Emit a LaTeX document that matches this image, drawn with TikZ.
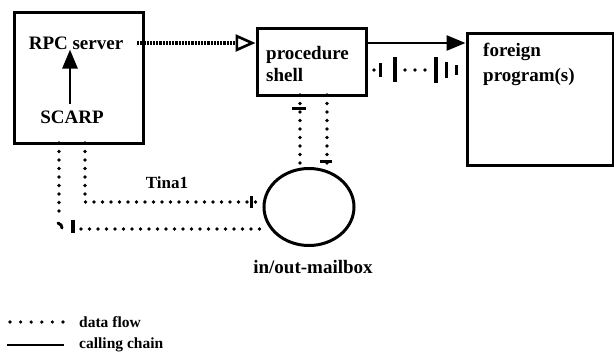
\documentclass[tikz,border=0pt]{standalone}
\usepackage{fontspec}
\setmainfont{Liberation Serif}
\usetikzlibrary{arrows.meta,shapes.geometric}
\begin{document}
\begin{tikzpicture}[x=1pt,y=-1pt,
  lbl/.style={font=\fontsize{19}{22}\selectfont\bfseries, inner sep=0pt},
  smalllbl/.style={font=\fontsize{15.5}{18}\selectfont\bfseries, inner sep=0pt},
  boxstyle/.style={draw, line width=3pt, rectangle, inner sep=0pt},
  dataflow/.style={line width=3.6pt, dash pattern=on 0pt off 8.5pt, line cap=round},
  callchain/.style={line width=2.8pt},
  tick/.style={line width=3pt},
  tip/.style={-{Triangle[length=19pt,width=15pt]}}
]
\useasboundingbox (0,0) rectangle (614,357);
% boxes
\node[boxstyle, minimum width=129pt, minimum height=131pt] (rpc) at (78.5,77.5) {};
\node[boxstyle, minimum width=109pt, minimum height=67pt] (proc) at (311.5,61.5) {};
\node[boxstyle, minimum width=146pt, minimum height=132pt] (foreign) at (540,99) {};
\node[draw, line width=3pt, ellipse, minimum width=90pt, minimum height=77pt, inner sep=0pt] (mail) at (309,207) {};
% labels
\node[lbl] (rpcl) at (76,43) {RPC server};
\node[lbl] (scarp) at (72,117) {SCARP};
\node[lbl, anchor=west, align=left, font=\fontsize{19}{22}\selectfont\bfseries] (procl) at (266,63.5) {procedure\\shell};
\node[lbl, anchor=north west, align=left, font=\fontsize{19}{25}\selectfont\bfseries] (forl) at (483,43) {foreign\\program(s)};
\node[lbl] (mboxl) at (313,267) {in/out-mailbox};
\node[smalllbl, font=\fontsize{17}{20}\selectfont\bfseries] (tina) at (167,183) {Tina1};
% calling chain arrows
\coordinate (s1) at (70,104);
\draw[callchain, tip] (s1) -- (s1 |- rpcl.south);
\coordinate (rs) at (137,43);
\draw[line width=3.6pt, dash pattern=on 2.2pt off 1pt, -{Triangle[open,length=20pt,width=17pt,line width=2.6pt]}] (rs) -- (proc.west |- rs);
\coordinate (pa) at (proc.east |- 0,43);
\draw[callchain, tip] (pa) -- (foreign.west |- pa);
% data flow proc -> foreign (ticks)
\coordinate (d0) at (374,70);
\fill (d0) circle (1.9pt);
\draw[tick] (380,63) -- (380,77);
\draw[line width=3.4pt] (395,57) -- (395,82);
\fill (405,70) circle (1.9pt) (415,70) circle (1.9pt) (425,70) circle (1.9pt);
\draw[line width=3.4pt] (436,57) -- (436,83);
\draw[tick] (446,62) -- (446,78);
\draw[tick] (456,65) -- (456,75);
% data flow proc -> mailbox
\coordinate (p1) at (300,95);
\coordinate (p2) at (327,95);
\draw[dataflow] (p1) -- (300,170);
\draw[dataflow] (p2) -- (327,170);
\draw[line width=3pt] (292,108) -- (306,108);
\draw[line width=3pt] (320,161) -- (332,161);
% data flow RPC -> mailbox
\coordinate (r1) at (59,143);
\coordinate (r2) at (85,143);
\coordinate (u1) at (85,202);
\coordinate (u2) at (263,202);
\draw[dataflow] (r2) -- (u1) -- (u2);
\draw[tick] (251,196) -- (251,208);
\coordinate (l1) at (59,218);
\coordinate (l2) at (264,229);
\draw[dataflow] (r1) -- (l1);
\draw[line width=3pt, line cap=round] (58,223) -- (61,225) -- (62,228);
\draw[dataflow] (81,229) -- (l2);
\draw[line width=3.2pt] (73,220) -- (73,233);
% legend
\coordinate (a1) at (10,322);
\coordinate (a2) at (63,322);
\draw[dataflow, dash pattern=on 0pt off 10.6pt] (a1) -- (a2);
\node[smalllbl, anchor=west] (df) at (79,322) {data flow};
\coordinate (b1) at (7,345);
\coordinate (b2) at (64,345);
\draw[callchain] (b1) -- (b2);
\node[smalllbl, anchor=west] (cc) at (79,345) {calling chain};
\end{tikzpicture}
\end{document}
